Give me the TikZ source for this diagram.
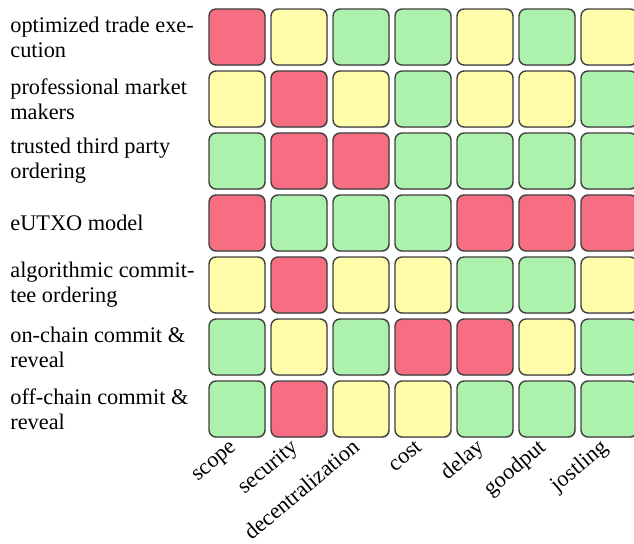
\documentclass[tikz,border=0pt]{standalone}
\usepackage{fontspec}
\setmainfont{Liberation Serif}
\usepackage{tikz}
\usetikzlibrary{shadows}
\definecolor{bad}{RGB}{247,110,130}
\definecolor{fair}{RGB}{255,253,170}
\definecolor{good}{RGB}{172,242,172}

\tikzset{
    cell/.style={draw=black!75, line width=0.8pt, rounded corners=4pt,
        minimum size=1.12cm, inner sep=0pt,
        drop shadow={shadow xshift=0.4pt, shadow yshift=-0.6pt, opacity=0.35}},
    rowlabel/.style={anchor=west, align=left, inner sep=0pt,
        font=\fontsize{12.7}{14.2}\selectfont},
    collabel/.style={anchor=base east, rotate=40, inner sep=0pt,
        font=\fontsize{12.7}{14.2}\selectfont}
}

\begin{document}
\begin{tikzpicture}[x=0.02cm, y=0.02cm]
    \clip (0,0) rectangle (634,543);

    % Row labels
    \node[rowlabel] (opt) at (10,506) {optimized trade exe-\\cution};
    \node[rowlabel] (pro) at (10,444) {professional market\\makers};
    \node[rowlabel] (ttp) at (10,382) {trusted third party\\ordering};
    \node[rowlabel] (eut) at (10,320) {eUTXO model};
    \node[rowlabel] (alg) at (10,258) {algorithmic commit-\\tee ordering};
    \node[rowlabel] (onc) at (10,196) {on-chain commit \&\\reveal};
    \node[rowlabel] (ofc) at (10,134) {off-chain commit \&\\reveal};

    % Cells
    \foreach \row/\cols in {
        1/{bad,fair,good,good,fair,good,fair},
        2/{fair,bad,fair,good,fair,fair,good},
        3/{good,bad,bad,good,good,good,good},
        4/{bad,good,good,good,bad,bad,bad},
        5/{fair,bad,fair,fair,good,good,fair},
        6/{good,fair,good,bad,bad,fair,good},
        7/{good,bad,fair,fair,good,good,good}} {
        \foreach \c [count=\col] in \cols {
            \node[cell, fill=\c] (cell-\row-\col)
                at ({237+62*(\col-1)}, {506-62*(\row-1)}) {};
        }
    }

    % Column labels
    \node[collabel] (scope) at (237,94) {scope};
    \node[collabel] (sec) at (299,94) {security};
    \node[collabel] (dec) at (361,94) {decentralization};
    \node[collabel] (cost) at (423,94) {cost};
    \node[collabel] (delay) at (485,94) {delay};
    \node[collabel] (good) at (547,94) {goodput};
    \node[collabel] (jost) at (609,94) {jostling};
\end{tikzpicture}
\end{document}
